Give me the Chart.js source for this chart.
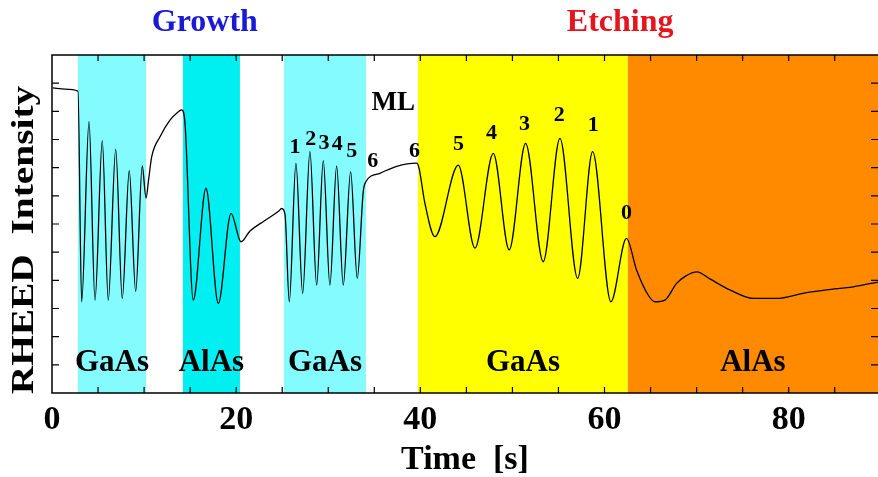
<!DOCTYPE html>
<html lang="en">
<head>
  <meta charset="UTF-8">
  <title>RHEED Intensity</title>
  <script src="https://cdn.jsdelivr.net/npm/chart.js"></script>
  <style>
    html, body { margin: 0; padding: 0; background: #fff; }
    #wrap { width: 878px; height: 477px; }
  </style>
</head>
<body>
  <div id="wrap"><canvas id="c"></canvas></div>
  <script>
    // trace (time in s, intensity in arb. units, axis 0..12)
    const timeS = [0.11, 1.41, 2.82, 3.22, 4.02, 4.67, 5.46, 6.11, 6.92, 7.63, 8.39, 9.09, 9.80, 10.21,
      10.50, 10.83, 11.73, 12.81, 13.60, 14.08, 14.44, 15.34, 16.72, 18.06, 19.44, 20.52,
      21.50, 23.00, 24.60, 24.94, 25.30, 25.77, 26.49, 27.22, 28.01, 28.74, 29.46, 30.18, 30.91,
      31.63, 32.43, 33.15, 33.80, 34.09, 35.61, 37.43, 39.60, 39.85, 40.50, 41.58, 44.12,
      45.93, 47.92, 49.65, 51.43, 53.34, 55.16, 57.08, 58.71, 60.69, 62.38, 63.48, 64.74,
      65.47, 66.56, 67.83, 68.80, 70.03, 71.44, 73.62, 76.15, 78.69, 81.57, 84.11, 87.00, 89.69];
    const intensity = [10.83, 10.79, 10.72, 3.24, 9.63, 3.30, 8.95, 3.30, 8.65, 3.36, 7.89, 3.60, 8.06, 6.92,
      7.60, 8.39, 9.10, 9.69, 9.95, 10.05, 9.58, 3.30, 7.27, 3.18, 6.38, 5.37,
      5.75, 6.10, 6.45, 6.55, 6.35, 3.24, 8.15, 3.54, 8.57, 3.83, 8.25, 3.83, 8.06,
      3.83, 7.86, 4.07, 7.15, 7.50, 7.80, 8.05, 8.16, 7.99, 6.73, 5.55, 8.09,
      5.14, 8.51, 5.08, 8.86, 4.66, 9.04, 4.07, 8.57, 3.24, 5.49, 4.37, 3.48,
      3.24, 3.30, 3.89, 4.15, 4.30, 4.05, 3.66, 3.36, 3.36, 3.54, 3.66, 3.77, 3.94];

    // shaded layers
    const bandStart = [2.82, 14.22, 25.19, 39.74, 62.54];
    const bandEnd = [10.21, 20.41, 34.09, 62.54, 89.7];
    const bandMaterial = ['GaAs', 'AlAs', 'GaAs', 'GaAs', 'AlAs'];

    // monolayer counters
    const markText = ['1', '2', '3', '4', '5', '6', '6', 'ML', '5', '4', '3', '2', '1', '0'];
    const markTime = [26.38, 28.09, 29.53, 30.98, 32.54, 34.82, 39.36, 37.06, 44.14, 47.74, 51.30, 55.08, 58.77, 62.40];
    const markValue = [8.74, 9.01, 8.86, 8.84, 8.57, 8.21, 8.59, 10.28, 8.82, 9.22, 9.55, 9.87, 9.51, 6.38];

    const phaseTitles = ['Growth', 'Etching'];
    const phaseTime = [16.6, 61.7];

    const xTickValues = [0, 20, 40, 60, 80];

    const bandColors = ['#84FBFF', '#00F0F2', '#84FBFF', '#FFFF00', '#FF8A00'];
    const phaseColors = ['#1A1AD6', '#E5151D'];
    const SERIF = '"Liberation Serif", "DejaVu Serif", serif';

    const bandsPlugin = {
      id: 'bands',
      beforeDraw(chart) {
        const { ctx, chartArea: a, scales: { x } } = chart;
        ctx.save();
        bandStart.forEach((s, i) => {
          const x0 = x.getPixelForValue(s), x1 = x.getPixelForValue(bandEnd[i]);
          ctx.fillStyle = bandColors[i];
          ctx.fillRect(x0, a.top, x1 - x0, a.bottom - a.top);
        });
        ctx.restore();
      }
    };

    const decorPlugin = {
      id: 'decor',
      afterDatasetsDraw(chart) {
        const { ctx, chartArea: a, scales: { x, y } } = chart;
        ctx.save();
        // frame
        ctx.strokeStyle = '#000';
        ctx.lineWidth = 1.5;
        ctx.beginPath();
        ctx.moveTo(a.right, a.top); ctx.lineTo(a.left, a.top);
        ctx.lineTo(a.left, a.bottom); ctx.lineTo(a.right, a.bottom);
        ctx.stroke();
        // inward ticks
        ctx.lineWidth = 1.2;
        ctx.beginPath();
        for (let t = 5; t < x.max; t += 5) {
          const px = x.getPixelForValue(t);
          ctx.moveTo(px, a.bottom); ctx.lineTo(px, a.bottom - 6);
          ctx.moveTo(px, a.top); ctx.lineTo(px, a.top + 6);
        }
        for (let v = 1; v < y.max; v++) {
          const py = y.getPixelForValue(v);
          ctx.moveTo(a.left, py); ctx.lineTo(a.left + 7, py);
          ctx.moveTo(a.right, py); ctx.lineTo(a.right - 7, py);
        }
        ctx.stroke();

        // layer names
        ctx.fillStyle = '#000';
        ctx.textAlign = 'center';
        ctx.textBaseline = 'middle';
        ctx.font = 'bold 31px ' + SERIF;
        bandMaterial.forEach((m, i) => {
          ctx.fillText(m, x.getPixelForValue((bandStart[i] + bandEnd[i]) / 2), y.getPixelForValue(1.06));
        });

        // ML counters
        markText.forEach((m, i) => {
          ctx.font = (m === 'ML' ? 'bold 27px ' : 'bold 22px ') + SERIF;
          ctx.fillText(m, x.getPixelForValue(markTime[i]), y.getPixelForValue(markValue[i]));
        });

        // phase titles
        ctx.font = 'bold 32px ' + SERIF;
        phaseTitles.forEach((p, i) => {
          ctx.fillStyle = phaseColors[i];
          ctx.fillText(p, x.getPixelForValue(phaseTime[i]), 23);
        });

        // y title, stretched along its length like the original
        ctx.fillStyle = '#000';
        ctx.translate(25, (a.top + a.bottom) / 2 + 16);
        ctx.rotate(-Math.PI / 2);
        ctx.scale(1.23, 1);
        ctx.font = 'bold 32px ' + SERIF;
        ctx.fillText('RHEED  Intensity', 0, 0);
        ctx.restore();
      }
    };

    new Chart(document.getElementById('c'), {
      type: 'line',
      data: {
        datasets: [{
          data: timeS.map((t, i) => ({ x: t, y: intensity[i] })),
          borderColor: '#000',
          borderWidth: 1.3,
          pointRadius: 0,
          cubicInterpolationMode: 'monotone',
          fill: false
        }]
      },
      options: {
        responsive: true,
        maintainAspectRatio: false,
        animation: false,
        layout: { padding: { top: 55, right: 0, left: 0, bottom: 0 } },
        plugins: { legend: { display: false }, tooltip: { enabled: false } },
        scales: {
          x: {
            type: 'linear', min: 0, max: 89.7,
            afterBuildTicks: s => { s.ticks = xTickValues.map(v => ({ value: v })); },
            afterFit: s => { s.height = 84; },
            grid: { display: false, drawTicks: false },
            border: { display: false },
            ticks: { color: '#000', padding: 7, font: { family: SERIF, size: 34, weight: 'bold' } },
            title: {
              display: true, text: 'Time  [s]', color: '#000', padding: 0,
              font: { family: SERIF, size: 34, weight: 'bold', lineHeight: 1 }
            }
          },
          y: {
            min: 0, max: 12,
            afterFit: s => { s.width = 52; },
            grid: { display: false, drawTicks: false },
            border: { display: false },
            ticks: { display: false }
          }
        }
      },
      plugins: [bandsPlugin, decorPlugin]
    });
  </script>
</body>
</html>
